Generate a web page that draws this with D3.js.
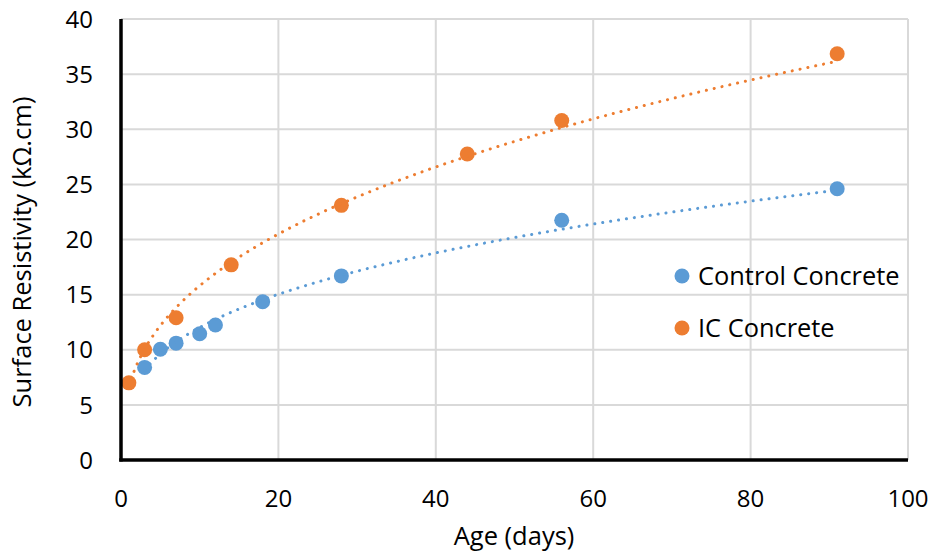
<!DOCTYPE html>
<html>
<head>
<meta charset="utf-8">
<script src="https://cdn.jsdelivr.net/npm/d3@7"></script>
<style>
  html, body { margin: 0; padding: 0; background: #fff; }
  svg { display: block; }
  text { font-family: "Open Sans", "Liberation Sans", sans-serif; fill: #000; }
</style>
</head>
<body>
<svg id="chart" width="934" height="556"></svg>
<script>
// ---- data ----
const controlAge = [3, 5, 7, 10, 12, 18, 28, 56, 91];
const controlRes = [8.4, 10.05, 10.6, 11.45, 12.25, 14.35, 16.7, 21.75, 24.6];
const icAge = [1, 3, 7, 14, 28, 44, 56, 91];
const icRes = [7.0, 10.0, 12.9, 17.7, 23.1, 27.75, 30.8, 36.85];
const seriesNames = ["Control Concrete", "IC Concrete"];
const seriesColors = ["#5B9BD5", "#ED7D31"];
const xTicks = [0, 20, 40, 60, 80, 100];
const yTicks = [0, 5, 10, 15, 20, 25, 30, 35, 40];
const xTitle = "Age (days)";
const yTitle = "Surface Resistivity (kΩ.cm)";

const series = [
  { name: seriesNames[0], color: seriesColors[0], pts: controlAge.map((a, i) => ({ x: a, y: controlRes[i] })) },
  { name: seriesNames[1], color: seriesColors[1], pts: icAge.map((a, i) => ({ x: a, y: icRes[i] })) }
];

const svg = d3.select("#chart");
const x = d3.scaleLinear().domain([0, 100]).range([121, 908]);
const y = d3.scaleLinear().domain([0, 40]).range([460, 19]);

// gridlines
const grid = svg.append("g");
grid.selectAll("line.h").data(yTicks.filter(d => d > 0)).join("line")
  .attr("x1", x(0)).attr("x2", x(100))
  .attr("y1", d => y(d)).attr("y2", d => y(d))
  .attr("stroke", "#d9d9d9").attr("stroke-width", 2);
grid.selectAll("line.v").data(xTicks.filter(d => d > 0)).join("line")
  .attr("x1", d => x(d)).attr("x2", d => x(d))
  .attr("y1", y(0)).attr("y2", y(40))
  .attr("stroke", "#d9d9d9").attr("stroke-width", 2);

// power trendlines (least squares in log-log space)
function powerFit(pts) {
  const lx = pts.map(p => Math.log(p.x)), ly = pts.map(p => Math.log(p.y));
  const mx = d3.mean(lx), my = d3.mean(ly);
  let num = 0, den = 0;
  for (let i = 0; i < lx.length; i++) { num += (lx[i] - mx) * (ly[i] - my); den += (lx[i] - mx) ** 2; }
  const b = num / den, a = Math.exp(my - b * mx);
  return t => a * Math.pow(t, b);
}
const line = d3.line().x(d => x(d[0])).y(d => y(d[1]));

// markers
series.forEach(s => {
  svg.append("g").selectAll("circle").data(s.pts).join("circle")
    .attr("cx", d => x(d.x)).attr("cy", d => y(d.y)).attr("r", 7.5)
    .attr("fill", s.color);
});

series.forEach(s => {
  const f = powerFit(s.pts);
  const [x0, x1] = d3.extent(s.pts, d => d.x);
  const n = 200;
  const curve = d3.range(n + 1).map(i => { const t = x0 + (x1 - x0) * i / n; return [t, f(t)]; });
  svg.append("path").attr("d", line(curve))
    .attr("fill", "none").attr("stroke", s.color).attr("stroke-width", 3)
    .attr("stroke-linecap", "round").attr("stroke-dasharray", "0.1 7.9");
});

// axes lines
svg.append("line").attr("x1", x(0)).attr("x2", x(0)).attr("y1", y(40)).attr("y2", y(0) + 1.5)
  .attr("stroke", "#000").attr("stroke-width", 3.5);
svg.append("line").attr("x1", x(0) - 1.75).attr("x2", x(100)).attr("y1", y(0)).attr("y2", y(0))
  .attr("stroke", "#000").attr("stroke-width", 3.5);

// tick labels
svg.append("g").selectAll("text").data(yTicks).join("text")
  .attr("x", 93).attr("y", d => y(d)).attr("dy", "0.36em")
  .attr("text-anchor", "end").attr("font-size", 24).text(d => d);
svg.append("g").selectAll("text").data(xTicks).join("text")
  .attr("x", d => x(d)).attr("y", 507)
  .attr("text-anchor", "middle").attr("font-size", 24).text(d => d);

// axis titles
svg.append("text").attr("x", 514).attr("y", 545).attr("text-anchor", "middle")
  .attr("font-size", 25.5).text(xTitle);
svg.append("text").attr("transform", "translate(31,252) rotate(-90)")
  .attr("text-anchor", "middle").attr("font-size", 25.5).text(yTitle);

// legend
const leg = svg.append("g").selectAll("g").data(series).join("g")
  .attr("transform", (d, i) => `translate(682,${276 + i * 52})`);
leg.append("circle").attr("r", 7.5).attr("fill", d => d.color);
leg.append("text").attr("x", 16).attr("dy", "0.36em").attr("font-size", 25.4).text(d => d.name);
</script>
</body>
</html>
